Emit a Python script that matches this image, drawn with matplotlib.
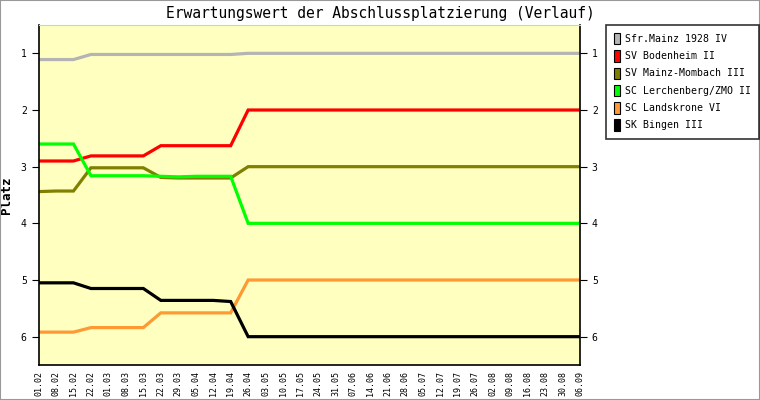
import matplotlib.pyplot as plt
from matplotlib.patches import Patch, Rectangle

dates = ['01.02', '08.02', '15.02', '22.02', '01.03', '08.03', '15.03', '22.03',
         '29.03', '05.04', '12.04', '19.04', '26.04', '03.05', '10.05', '17.05',
         '24.05', '31.05', '07.06', '14.06', '21.06', '28.06', '05.07', '12.07',
         '19.07', '26.07', '02.08', '09.08', '16.08', '23.08', '30.08', '06.09']

teams = ['Sfr.Mainz 1928 IV', 'SV Bodenheim II', 'SV Mainz-Mombach III',
         'SC Lerchenberg/ZMO II', 'SC Landskrone VI', 'SK Bingen III']
colors = ['#b4b4b4', '#ff0000', '#808000', '#00ff00', '#ff9933', '#000000']

mainz = [1.11, 1.11, 1.11] + [1.02] * 9 + [1.0] * 20
bodenheim = [2.9] * 3 + [2.81] * 4 + [2.63] * 5 + [2.0] * 20
mombach = [3.44, 3.43, 3.43] + [3.02] * 4 + [3.19, 3.2, 3.2, 3.2, 3.2] + [3.0] * 20
lerchenberg = [2.6] * 3 + [3.16] * 4 + [3.17, 3.18, 3.17, 3.17, 3.17] + [4.0] * 20
landskrone = [5.92] * 3 + [5.84] * 4 + [5.58] * 5 + [5.0] * 20
bingen = [5.05] * 3 + [5.15] * 4 + [5.36, 5.36, 5.36, 5.36, 5.38] + [6.0] * 20

series = [mainz, bodenheim, mombach, lerchenberg, landskrone, bingen]

plt.rcParams['font.family'] = 'DejaVu Sans Mono'

fig = plt.figure(figsize=(7.6, 4), dpi=100)
fig.patches.append(Rectangle((0, 0), 1, 1, transform=fig.transFigure,
                             fill=False, edgecolor='#999999', linewidth=1.5))
ax = fig.add_axes([0.0507, 0.0875, 0.7125, 0.85])
ax.set_facecolor('#ffffc0')

x = range(len(dates))
for vals, c in zip(series, colors):
    ax.plot(x, vals, color=c, linewidth=2.3, solid_joinstyle='miter')

ax.set_xlim(0, len(dates) - 1)
ax.set_ylim(6.5, 0.5)
ax.set_xticks(list(x))
ax.set_xticklabels(dates, rotation=90, fontsize=6)
ax.set_yticks([1, 2, 3, 4, 5, 6])
ax.tick_params(axis='x', length=0, pad=4)
ax.tick_params(axis='y', labelsize=7, length=5, left=True, right=True,
               labelleft=True, labelright=True, direction='out')
ax.set_ylabel('Platz', fontsize=9, fontweight='bold', labelpad=6)
ax.spines['top'].set_color('#a0f0a0')
for s in ['left', 'right', 'bottom']:
    ax.spines[s].set_linewidth(1.2)

fig.suptitle('Erwartungswert der Abschlussplatzierung (Verlauf)', fontsize=10.5,
             x=0.5, y=0.985)

handles = [Patch(facecolor=c, edgecolor='black', linewidth=0.8) for c in colors]
leg = fig.legend(handles, teams, loc='upper left', bbox_to_anchor=(0.797, 0.9375),
                 fontsize=7.1, frameon=True, fancybox=False, handlelength=0.6,
                 handleheight=1.4, handletextpad=0.6, labelspacing=0.6,
                 borderpad=0.8, borderaxespad=0)
leg.get_frame().set_edgecolor('black')
leg.get_frame().set_linewidth(1.2)

fig.savefig('out.png', dpi=100)
